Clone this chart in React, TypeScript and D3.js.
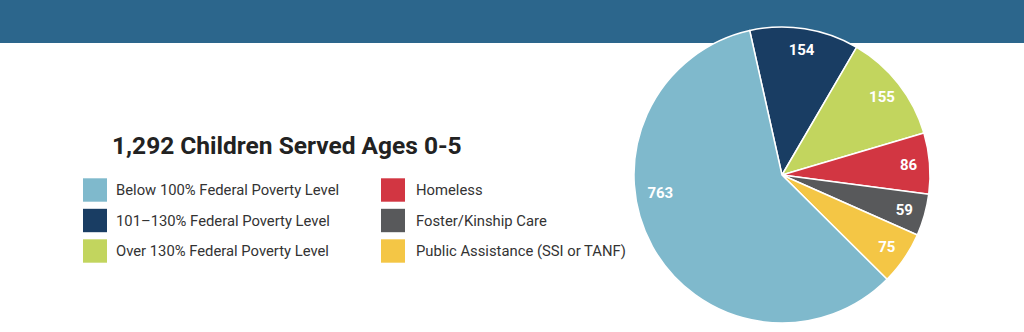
import React from "react";
import * as d3 from "d3";

const categories = [
  "Below 100% Federal Poverty Level",
  "101\u2013130% Federal Poverty Level",
  "Over 130% Federal Poverty Level",
  "Homeless",
  "Foster/Kinship Care",
  "Public Assistance (SSI or TANF)",
];
const values = [763, 154, 155, 86, 59, 75];
const colors = ["#7FB9CC", "#193D63", "#C2D55E", "#D23642", "#58595B", "#F4C645"];
const title = "1,292 Children Served Ages 0-5";

const W = 1024;
const H = 332;

export default function App() {
  const cx = 782;
  const cy = 175;
  const r = 148;
  const total = d3.sum(values);
  const deg = Math.PI / 180;
  const startOffset = -12.6 * deg;
  // Order drawn clockwise: slices 1..5 then slice 0
  const order = [1, 2, 3, 4, 5, 0];
  const angle = d3.scaleLinear().domain([0, total]).range([startOffset, startOffset + 2 * Math.PI]);
  let acc = 0;
  const slices = order.map((i) => {
    const s = angle(acc);
    acc += values[i];
    const e = angle(acc);
    return { i, startAngle: s, endAngle: e };
  });
  const arc = d3.arc<any>().innerRadius(0).outerRadius(r);
  const labelR = 127;

  const legendRows = [0, 1, 2];
  return (
    <svg width={W} height={H} style={{ position: "absolute", left: 0, top: 0, display: "block" }}>
      <rect x={0} y={0} width={W} height={43} fill="#2C668C" />
      <text x={112} y={154} fontFamily="Roboto" fontWeight={700} fontSize={24.5} fill="#222">
        {title}
      </text>
      {categories.map((c, i) => {
        const col = Math.floor(i / 3);
        const row = legendRows[i % 3];
        const x = col === 0 ? 83 : 381;
        const y = 178.3 + row * 30.5;
        return (
          <g key={c}>
            <rect x={x} y={y} width={24} height={23.4} fill={colors[i]} />
            <text x={x + (col === 0 ? 33 : 35)} y={y + 17} fontFamily="Roboto" fontSize={14.8} fill="#333">
              {c}
            </text>
          </g>
        );
      })}
      <g transform={`translate(${cx},${cy})`}>
        {slices.map((s) => (
          <path key={s.i} d={arc(s) as string} fill={colors[s.i]} stroke="#fff" strokeWidth={1.5} strokeLinejoin="round" />
        ))}
        {slices.map((s) => {
          const a = s.i === 0 ? s.startAngle + 0.597 * (s.endAngle - s.startAngle) : (s.startAngle + s.endAngle) / 2;
          const lr = s.i === 0 ? 123 : labelR;
          const x = lr * Math.sin(a);
          const y = -lr * Math.cos(a);
          return (
            <text key={"l" + s.i} x={x} y={y} dy="0.36em" textAnchor="middle" fontFamily="Roboto" fontWeight={700} fontSize={15} fill="#fff">
              {values[s.i]}
            </text>
          );
        })}
      </g>
    </svg>
  );
}
